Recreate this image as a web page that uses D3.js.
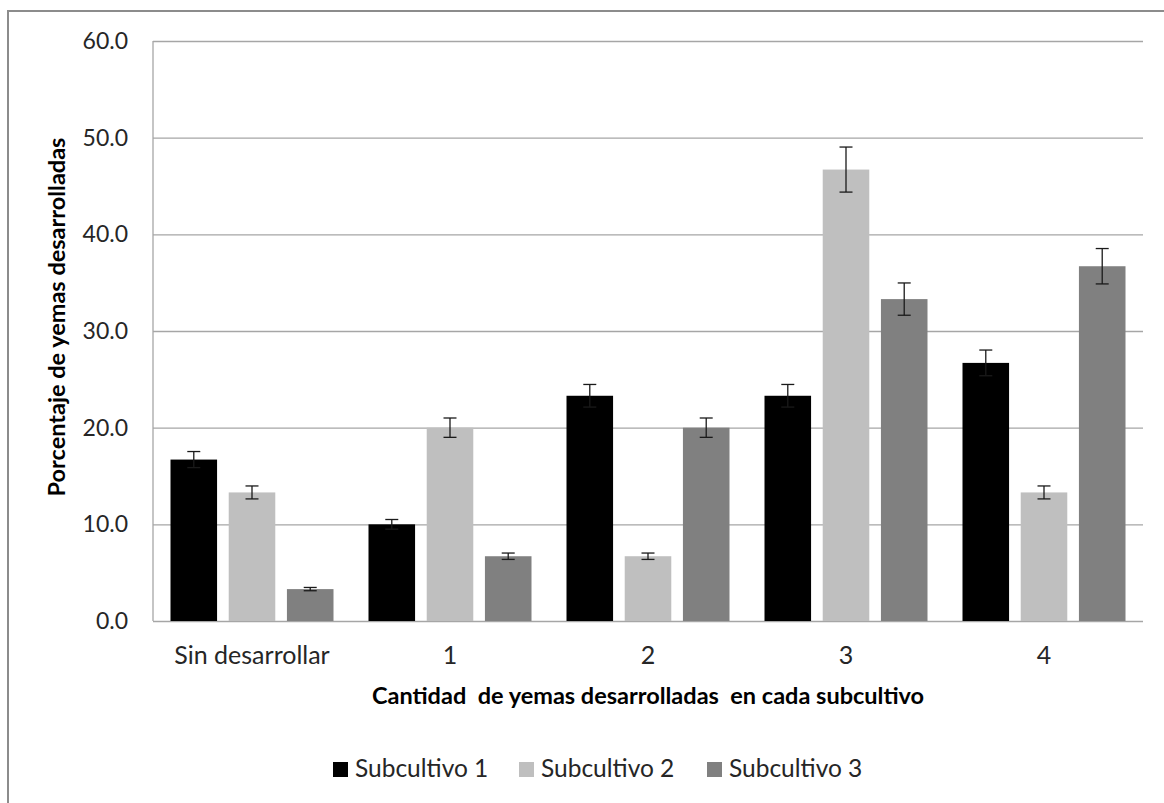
<!DOCTYPE html>
<html lang="es">
<head>
<meta charset="UTF-8"/>
<title>Porcentaje de yemas desarrolladas</title>
<script src="https://d3js.org/d3.v7.min.js"></script>
<style>
    body { margin: 0; background: #fff; }
    text { font-family: Lato, "Open Sans", sans-serif; fill: #262626; }
    .grid line { stroke: #a6a6a6; stroke-width: 1.3px; }
    .grid path { display: none; }
    .axis path { display: none; }
    .yaxis text { font-size: 23px; }
    .xaxis text { font-size: 25px; }
    .title { font-weight: bold; font-size: 23.5px; fill: #000; white-space: pre; }
    .legend text { font-size: 24.5px; }
</style>
</head>
<body>
<div id="chart"></div>
<script>

var categories = ["Sin desarrollar", "1", "2", "3", "4"];
var seriesNames = ["Subcultivo 1", "Subcultivo 2", "Subcultivo 3"];
var seriesColors = ["#000000", "#bfbfbf", "#808080"];

// percentages, one list per subculture
var sub1 = [16.7, 10.0, 23.3, 23.3, 26.7];
var sub2 = [13.3, 20.0, 6.7, 46.7, 13.3];
var sub3 = [3.3, 6.7, 20.0, 33.3, 36.7];

// error bar half-lengths
var err1 = [0.83, 0.50, 1.17, 1.17, 1.33];
var err2 = [0.67, 1.00, 0.33, 2.33, 0.67];
var err3 = [0.17, 0.33, 1.00, 1.67, 1.83];

var yTicks = [0, 10, 20, 30, 40, 50, 60];

var values = [sub1, sub2, sub3];
var errors = [err1, err2, err3];

var margin = {top: 41, left: 153},
    width = 990,
    height = 580;

var svg = d3.select("#chart")
    .append("svg")
    .attr("width", 1164)
    .attr("height", 803);

// outer chart frame (runs off the right and bottom edges)
svg.append("rect")
    .attr("x", 8)
    .attr("y", 11)
    .attr("width", 1200)
    .attr("height", 850)
    .attr("fill", "none")
    .attr("stroke", "#8c8c8c")
    .attr("stroke-width", 2);

var g = svg.append("g")
    .attr("transform", "translate(" + margin.left + "," + margin.top + ")");

var y = d3.scaleLinear()
    .domain([0, 60])
    .range([height, 0]);

var x0 = d3.scaleBand()
    .domain(categories)
    .range([0, width]);

var x1 = d3.scaleBand()
    .domain(d3.range(seriesNames.length))
    .range([17.5, x0.bandwidth() - 17.5])
    .paddingInner(0.2);

g.append("g")
    .attr("class", "grid")
    .call(d3.axisLeft(y).tickValues(yTicks).tickSize(-width).tickFormat(""));

g.append("line")
    .attr("x1", 0).attr("x2", 0)
    .attr("y1", 0).attr("y2", height)
    .attr("stroke", "#a6a6a6")
    .attr("stroke-width", 1.3);

g.append("g")
    .attr("class", "axis yaxis")
    .call(d3.axisLeft(y).tickValues(yTicks).tickSize(0).tickPadding(25)
        .tickFormat(d3.format(".1f")));

g.append("g")
    .attr("class", "axis xaxis")
    .attr("transform", "translate(0," + height + ")")
    .call(d3.axisBottom(x0).tickSize(0).tickPadding(25));

var rows = [];
values.forEach(function(list, s) {
    list.forEach(function(v, i) {
        rows.push({cat: categories[i], s: s, v: v, e: errors[s][i]});
    });
});

g.selectAll("rect.bar")
    .data(rows)
    .enter()
    .append("rect")
    .attr("class", "bar")
    .attr("x", function(d) { return x0(d.cat) + x1(d.s); })
    .attr("y", function(d) { return y(d.v); })
    .attr("width", x1.bandwidth())
    .attr("height", function(d) { return height - y(d.v); })
    .attr("fill", function(d) { return seriesColors[d.s]; });

var capW = 6.5;
var eb = g.selectAll("g.err")
    .data(rows)
    .enter()
    .append("g")
    .attr("class", "err")
    .attr("stroke", "#1a1a1a")
    .attr("stroke-width", 1.3)
    .attr("transform", function(d) {
        return "translate(" + (x0(d.cat) + x1(d.s) + x1.bandwidth() / 2) + ",0)";
    });
eb.append("line")
    .attr("y1", function(d) { return y(d.v + d.e); })
    .attr("y2", function(d) { return y(d.v - d.e); });
eb.append("line")
    .attr("x1", -capW).attr("x2", capW)
    .attr("y1", function(d) { return y(d.v + d.e); })
    .attr("y2", function(d) { return y(d.v + d.e); });
eb.append("line")
    .attr("x1", -capW).attr("x2", capW)
    .attr("y1", function(d) { return y(d.v - d.e); })
    .attr("y2", function(d) { return y(d.v - d.e); });

// axis titles
svg.append("text")
    .attr("class", "title")
    .attr("text-anchor", "middle")
    .attr("transform", "translate(65,317)rotate(-90)")
    .text("Porcentaje de yemas desarrolladas");

svg.append("text")
    .attr("class", "title")
    .attr("text-anchor", "middle")
    .attr("x", margin.left + width / 2)
    .attr("y", 704)
    .text("Cantidad  de yemas desarrolladas  en cada subcultivo");

// legend
var legendX = [333, 519, 707];
var legend = svg.append("g").attr("class", "legend");
var item = legend.selectAll("g")
    .data(seriesNames)
    .enter()
    .append("g")
    .attr("transform", function(d, i) { return "translate(" + legendX[i] + ",762)"; });
item.append("rect")
    .attr("width", 15)
    .attr("height", 15)
    .attr("fill", function(d, i) { return seriesColors[i]; });
item.append("text")
    .attr("x", 22)
    .attr("y", 15)
    .text(function(d) { return d; });

</script>
</body>
</html>
